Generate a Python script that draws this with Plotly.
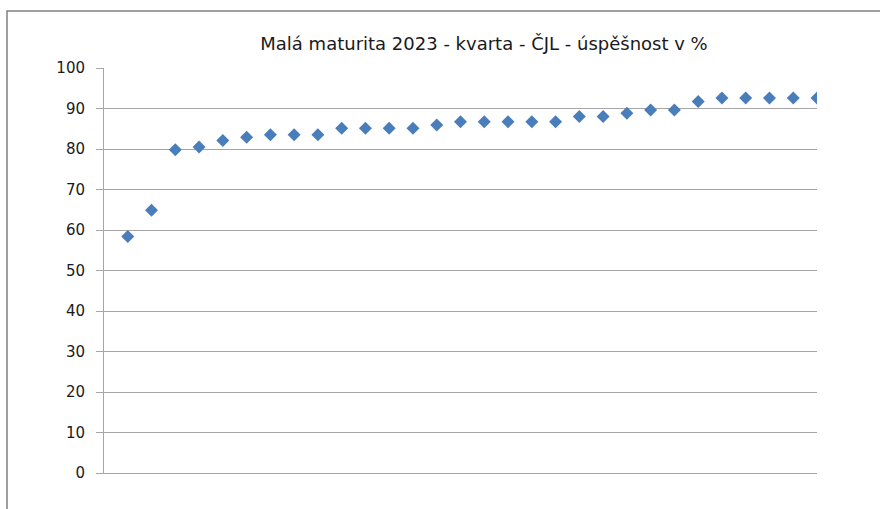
import plotly.graph_objects as go

positions = list(range(1, 31))
success_pct = [58.4, 64.9, 79.8, 80.5, 82.1, 82.9, 83.5, 83.5, 83.5, 85.1,
               85.1, 85.1, 85.1, 85.9, 86.7, 86.7, 86.7, 86.7, 86.7, 88.0,
               88.0, 88.8, 89.6, 89.6, 91.7, 92.6, 92.6, 92.6, 92.6, 92.6]
y_ticks = [0, 10, 20, 30, 40, 50, 60, 70, 80, 90, 100]
title_text = "Malá maturita 2023 - kvarta - ČJL - úspěšnost v %"

fig = go.Figure()
fig.add_trace(go.Scatter(
    x=positions, y=success_pct, mode="markers",
    marker=dict(symbol="diamond", size=10, color="#4a7ebb",
                line=dict(width=0)),
    hoverinfo="x+y", showlegend=False,
))

L, R, T, B = 104, 63, 68, 36
W, H = 880, 509
pw, ph = W - L - R, H - T - B

fig.update_layout(
    width=W, height=H,
    margin=dict(l=L, r=R, t=T, b=B, pad=0),
    paper_bgcolor="white", plot_bgcolor="white",
    title=dict(text=title_text, x=484 / W, xref="container", xanchor="center",
               y=1 - 44 / H, yref="container", yanchor="middle",
               font=dict(family="DejaVu Sans, sans-serif", size=18, color="#1a1a1a")),
    font=dict(family="DejaVu Sans, sans-serif", size=15, color="#1a1a1a"),
    xaxis=dict(range=[0, 30], showgrid=False, zeroline=False, showticklabels=False,
               showline=True, linecolor="#a6a6a6", linewidth=1, ticks=""),
    yaxis=dict(range=[0, 100], tickvals=y_ticks, showgrid=True, gridcolor="#a6a6a6",
               gridwidth=1, zeroline=False, showline=True, linecolor="#a6a6a6",
               linewidth=1, ticks="outside", ticklen=7, tickcolor="#a6a6a6",
               ticklabelstandoff=8, tickfont=dict(size=15)),
    shapes=[dict(type="rect", xref="paper", yref="paper",
                 x0=(7 - L) / pw, x1=1.3, y0=-0.3, y1=1 + (T - 11) / ph,
                 line=dict(color="#808080", width=1.5), layer="below")],
)

fig.write_html("out.html", config={"displayModeBar": False},
               post_script="document.body.style.margin='0';document.body.style.overflow='hidden';")
